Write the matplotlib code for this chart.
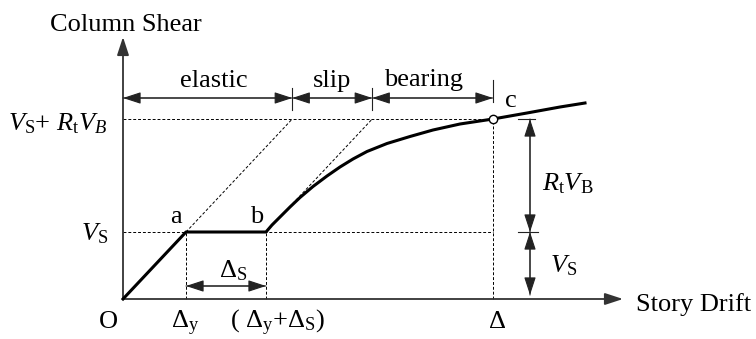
import matplotlib
matplotlib.use("Agg")
import matplotlib.pyplot as plt

plt.rcParams['font.family'] = ['Liberation Serif', 'DejaVu Serif']
plt.rcParams['mathtext.fontset'] = 'custom'
plt.rcParams['mathtext.rm'] = 'Liberation Serif'
plt.rcParams['mathtext.it'] = 'Liberation Serif:italic'
plt.rcParams['mathtext.bf'] = 'Liberation Serif:bold'

# ---- data (diagram units) ----
delta_y = 63          # yield drift (point a)
delta_s = 80          # slip length
delta_c = 370         # drift at point c
V_s = 67              # slip shear level
V_top = 180           # V_S + R_t V_B level
curve_x = [0, 63, 143, 149, 157, 167, 177, 190, 204, 217, 230, 244, 264, 287,
           310, 337, 370, 404, 437, 462]
curve_y = [0, 67, 67, 74, 82, 92, 101.5, 112.5, 123, 132, 140, 147.5, 155.5, 162.5,
           169, 175, 180, 186, 192, 196]
x_axis_end = 500
y_axis_end = 262

axis_titles = ["Column Shear", "Story Drift"]
stage_labels = ["elastic", "slip", "bearing"]
point_labels = ["a", "b", "c"]
y_labels = [r"$V_\mathrm{S}$+ $R_\mathrm{t}V_B$", r"$V_\mathrm{S}$"]
x_labels = ["O", r"$\Delta_\mathrm{y}$", r"( $\Delta_\mathrm{y}$+$\Delta_\mathrm{S}$)", r"$\Delta$"]
dim_labels = [r"$\Delta_\mathrm{S}$", r"$R_\mathrm{t}V_\mathrm{B}$", r"$V_\mathrm{S}$"]

FS = 19

fig = plt.figure(figsize=(7.56, 3.39), dpi=100)
ax = fig.add_axes([0, 0, 1, 1])
ax.set_xlim(-123, 633)
ax.set_ylim(-40, 299)
ax.axis('off')

def arrow(p0, p1, style='-|>', lw=0.8, color='#222222'):
    ax.annotate('', xy=p1, xytext=p0,
                arrowprops=dict(arrowstyle=f'{style},head_length=0.55,head_width=0.18',
                                mutation_scale=20, lw=lw, color=color,
                                shrinkA=0, shrinkB=0))

# axes with arrows
arrow((0, 0), (x_axis_end, 0), lw=1.3, color='#333333')
arrow((0, 0), (0, y_axis_end), lw=1.3, color='#333333')

# dashed reference lines
dash = dict(color='black', lw=0.7, ls=(0, (3, 2)))
ax.plot([0, delta_c], [V_top, V_top], **dash)
ax.plot([0, delta_c], [V_s, V_s], **dash)
ax.plot([delta_y, delta_y], [0, V_s], **dash)
ax.plot([delta_y + delta_s, delta_y + delta_s], [0, V_s], **dash)
ax.plot([delta_c, delta_c], [0, V_top], **dash)
slope = V_s / delta_y
x1 = V_top / slope
x2 = delta_y + delta_s + (V_top - V_s) / slope
ax.plot([delta_y, x1], [V_s, V_top], **dash)
ax.plot([delta_y + delta_s, x2], [V_s, V_top], **dash)

# main curve
ax.plot(curve_x, curve_y, color='black', lw=2.2, solid_joinstyle='round', zorder=5)
ax.plot([delta_c], [V_top], marker='o', ms=6, mfc='white', mec='black', mew=1.0, zorder=6)

# top dimension arrows
yd = 201
arrow((x1, yd), (0, yd))
arrow((0, yd), (x1, yd))
arrow((x2, yd), (x1, yd))
arrow((x1, yd), (x2, yd))
arrow((delta_c, yd), (x2, yd))
arrow((x2, yd), (delta_c, yd))
ax.plot([x1, x1], [189, 211], color='#222222', lw=0.8)
ax.plot([x2, x2], [189, 211], color='#222222', lw=0.8)
ax.plot([delta_c, delta_c], [197, 219], color='#222222', lw=0.8)

# delta_s arrow
arrow((delta_y + delta_s, 13), (delta_y, 13))
arrow((delta_y, 13), (delta_y + delta_s, 13))

# right dimension
xr = 407
ax.plot([395, 412], [V_top, V_top], color='#222222', lw=0.8)
ax.plot([395, 415], [V_s, V_s], color='#222222', lw=0.8)
arrow((xr, V_s), (xr, V_top))
arrow((xr, V_top), (xr, V_s))
arrow((xr, 4), (xr, V_s))
arrow((xr, V_s), (xr, 4))

# texts
t = dict(fontsize=FS, va='baseline')
ax.text(2.5, 268, axis_titles[0], ha='center', **t)
ax.text(513, -12, axis_titles[1], ha='left', **t)
ax.text(91, 212, stage_labels[0], ha='center', **t)
ax.text(209, 212, stage_labels[1], ha='center', **t)
ax.text(301, 213, stage_labels[2], ha='center', **t)
ax.text(53, 76, point_labels[0], ha='center', **t)
ax.text(134, 76, point_labels[1], ha='center', **t)
ax.text(388, 192, point_labels[2], ha='center', **t)
ax.text(-16, 169, y_labels[0], ha='right', **t)
ax.text(-15, 59, y_labels[1], ha='right', **t)
ax.text(-15, -29, x_labels[0], ha='center', **t)
ax.text(62.5, -29, x_labels[1], ha='center', **t)
ax.text(154, -29, x_labels[2], ha='center', **t)
ax.text(374, -29, x_labels[3], ha='center', **t)
ax.text(110, 22, dim_labels[0], ha='center', **t)
ax.text(419, 109, dim_labels[1], ha='left', **t)
ax.text(427, 27, dim_labels[2], ha='left', **t)

fig.savefig('out.png', dpi=100)
